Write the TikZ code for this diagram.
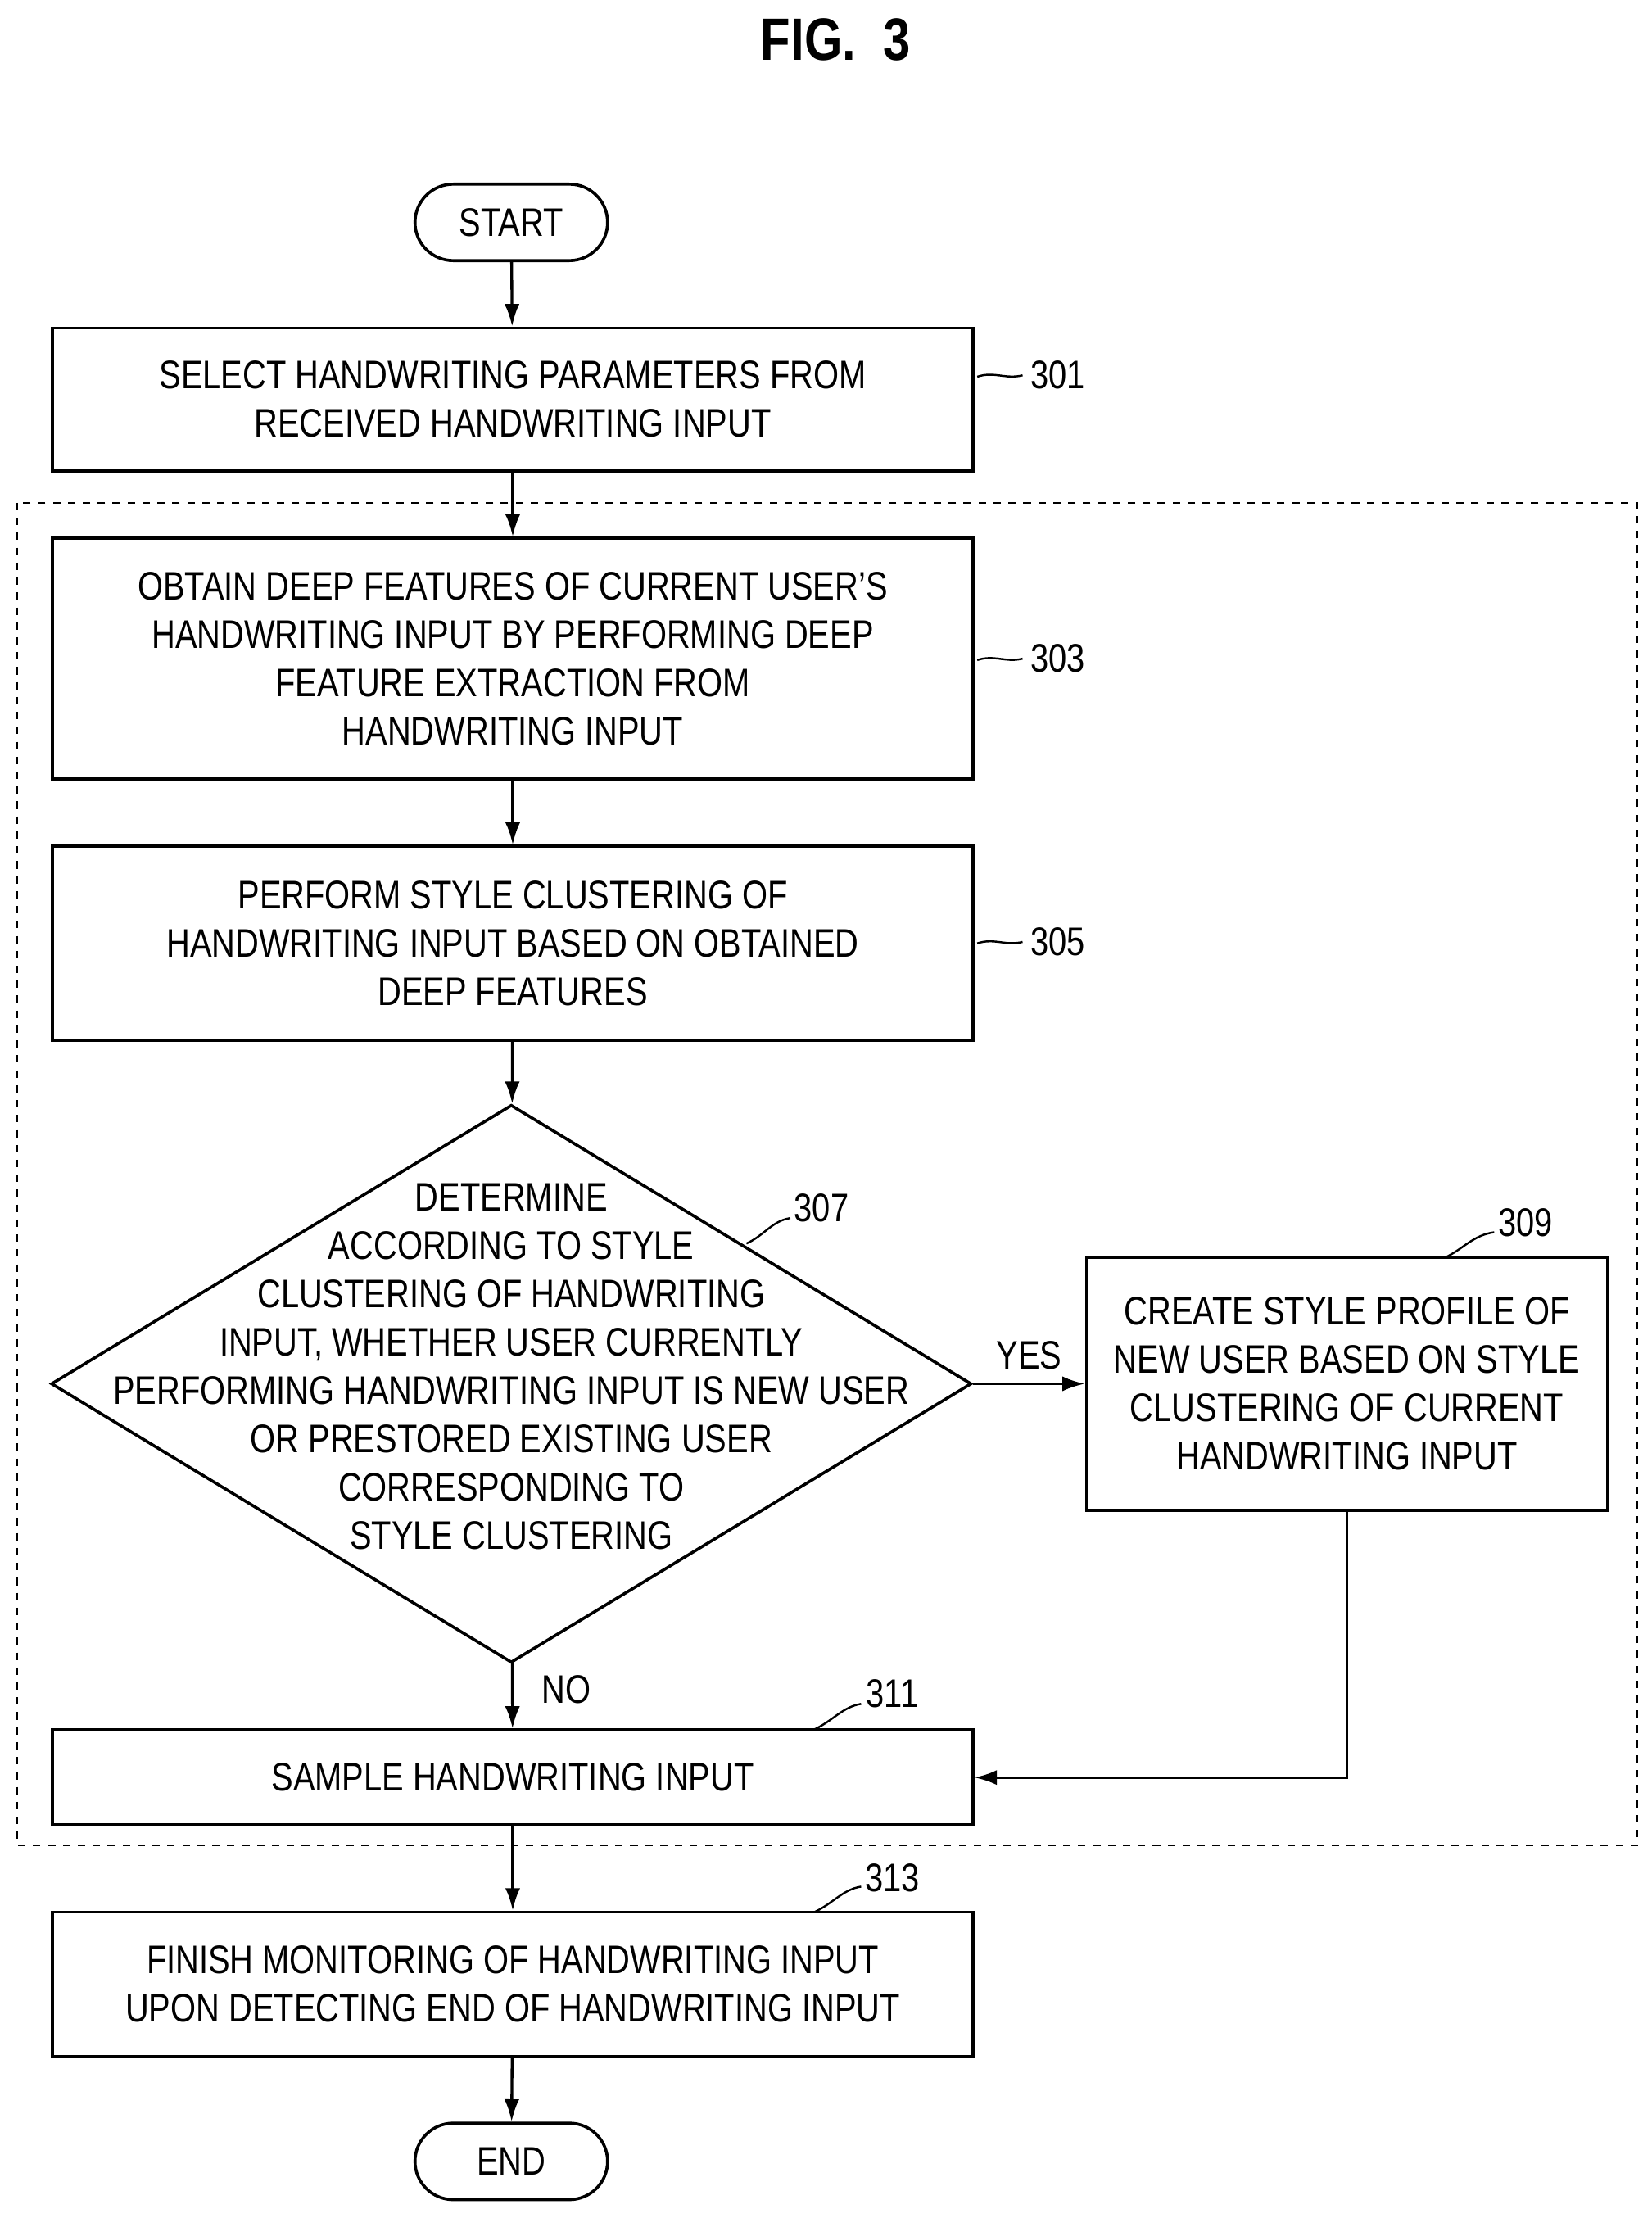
\documentclass[tikz,border=0pt]{standalone}
\usepackage{fontspec}
\setmainfont{Liberation Sans}[FakeStretch=0.82]
\usetikzlibrary{positioning,shapes.geometric,arrows.meta}
\begin{document}
\begin{tikzpicture}[x=0.02cm,y=-0.02cm,
	box/.style={draw,line width=1.2pt,minimum width=13cm,align=center,font=\fontsize{16}{19.4}\selectfont},
	term/.style={draw,line width=1.2pt,rounded corners=0.54cm,minimum width=2.72cm,minimum height=1.08cm,font=\fontsize{16}{19.4}\selectfont},
	flow/.style={-{Latex[length=9pt,width=6pt]},line width=1.1pt},
	lbl/.style={font=\fontsize{16}{19.4}\selectfont},
	lead/.style={line width=0.8pt}]
	\useasboundingbox (0,0) rectangle (1166,1566);
	\node[font=\bfseries\fontsize{24}{28}\selectfont] (title) at (590,28) {FIG.\ \ 3};

	\node[term] (start) at (361,157) {START};
	\node[box,minimum height=2.02cm] (s301) at (362,282) {SELECT HANDWRITING PARAMETERS FROM\\RECEIVED HANDWRITING INPUT};
	\node[box,minimum height=3.4cm] (s303) at (362,465) {OBTAIN DEEP FEATURES OF CURRENT USER'S\\HANDWRITING INPUT BY PERFORMING DEEP\\FEATURE EXTRACTION FROM\\HANDWRITING INPUT};
	\node[box,minimum height=2.74cm] (s305) at (362,666) {PERFORM STYLE CLUSTERING OF\\HANDWRITING INPUT BASED ON OBTAINED\\DEEP FEATURES};
	\node[draw,line width=1.2pt,diamond,inner sep=0pt,minimum width=13cm,minimum height=7.88cm] (s307) at (361,977) {};
	\node[lbl,align=center] (t307) at (361,965) {DETERMINE\\ACCORDING TO STYLE\\CLUSTERING OF HANDWRITING\\INPUT, WHETHER USER CURRENTLY\\PERFORMING HANDWRITING INPUT IS NEW USER\\OR PRESTORED EXISTING USER\\CORRESPONDING TO\\STYLE CLUSTERING};
	\node[box,minimum width=7.36cm,minimum height=3.58cm] (s309) at (951,977) {CREATE STYLE PROFILE OF\\NEW USER BASED ON STYLE\\CLUSTERING OF CURRENT\\HANDWRITING INPUT};
	\node[box,minimum height=1.34cm] (s311) at (362,1255) {SAMPLE HANDWRITING INPUT};
	\node[box,minimum height=2.04cm] (s313) at (362,1401) {FINISH MONITORING OF HANDWRITING INPUT\\UPON DETECTING END OF HANDWRITING INPUT};
	\node[term] (end) at (361,1526) {END};

	% dashed group
	\draw[dashed,line width=0.7pt] (12,355) rectangle (1156,1303);

	\draw[flow] (start) -- (s301);
	\draw[flow] (s301) -- (s303);
	\draw[flow] (s303) -- (s305);
	\draw[flow] (s305) -- (s307);
	\draw[flow] (s307) -- node[lbl,above=2pt]{YES} (s309);
	\draw[flow] (s307) -- node[lbl,right=8pt,pos=0.4]{NO} (s311);
	\draw[flow] (s309.south) |- (s311.east);
	\draw[flow] (s311) -- (s313);
	\draw[flow] (s313) -- (end);

	% reference numerals
	\node[lbl] (n301) at (747,265) {301};
	\draw[lead] (690,266) .. controls (702,262) and (710,268) .. (722,265);
	\node[lbl] (n303) at (747,465) {303};
	\draw[lead] (690,466) .. controls (702,462) and (710,468) .. (722,465);
	\node[lbl] (n305) at (747,665) {305};
	\draw[lead] (690,666) .. controls (702,662) and (710,668) .. (722,665);
	\node[lbl] (n307) at (580,853) {307};
	\draw[lead] (527,878) .. controls (540,872) and (545,862) .. (558,860);
	\node[lbl] (n309) at (1077,863) {309};
	\draw[lead] (1020,888) .. controls (1033,882) and (1040,872) .. (1055,870);
	\node[lbl] (n311) at (630,1196) {311};
	\draw[lead] (575,1221) .. controls (588,1215) and (595,1205) .. (608,1203);
	\node[lbl] (n313) at (630,1326) {313};
	\draw[lead] (575,1350) .. controls (588,1344) and (595,1334) .. (608,1332);
\end{tikzpicture}
\end{document}
